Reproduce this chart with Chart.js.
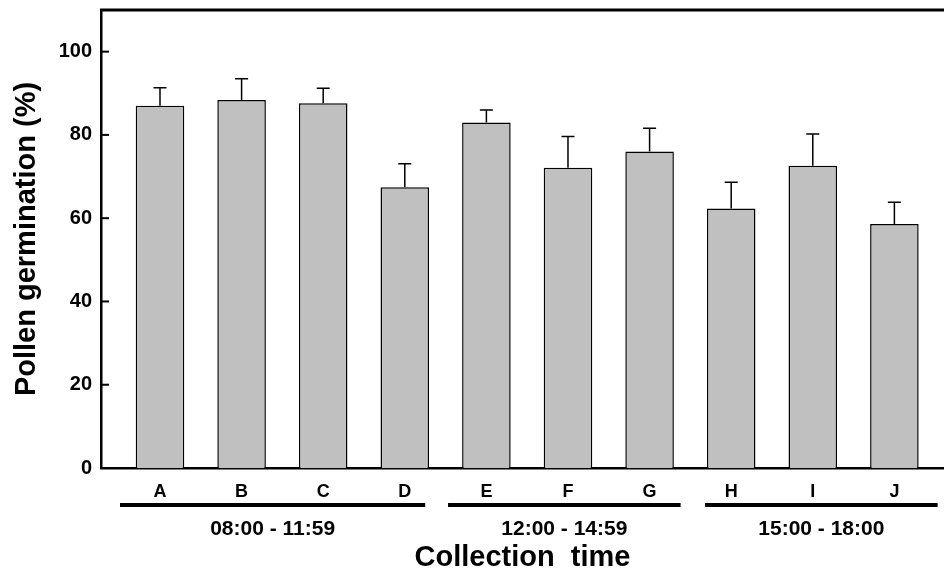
<!DOCTYPE html>
<html>
<head>
<meta charset="utf-8">
<title>Pollen germination</title>
<script src="https://cdn.jsdelivr.net/npm/chart.js"></script>
<style>
    html, body { margin: 0; padding: 0; background: #fff; }
    #wrap { width: 944px; height: 572px; position: relative; }
</style>
</head>
<body>
<div id="wrap"><canvas id="germChart"></canvas></div>
<script>
// Data germinasi polen per waktu koleksi
const categories = ['A', 'B', 'C', 'D', 'E', 'F', 'G', 'H', 'I', 'J'];
const germination = [87.0, 88.4, 87.6, 67.4, 83.0, 72.1, 76.0, 62.3, 72.6, 58.6];
const germinationErr = [4.3, 5.1, 3.6, 5.7, 3.0, 7.5, 5.6, 6.3, 7.6, 5.2];
const groupLabels = ['08:00 - 11:59', '12:00 - 14:59', '15:00 - 18:00'];
const yTicks = [0, 20, 40, 60, 80, 100];

const FONT = "'Liberation Sans', Arial, Helvetica, sans-serif";

// Bar ke-i ditaruh di posisi x = i + 1 pada sumbu linear
const points = germination.map((v, i) => ({ x: i + 1, y: v }));

// Plugin: garis atas, tick ke dalam, error bar, dan garis kelompok
const framePlugin = {
    id: 'frame',
    afterDatasetsDraw(chart, args, opts) {
        const { ctx, chartArea, scales } = chart;
        const xs = scales.x, ys = scales.y;
        ctx.save();
        ctx.strokeStyle = '#000';

        // garis atas bingkai
        ctx.lineWidth = 3;
        ctx.beginPath();
        ctx.moveTo(chartArea.left - 1, chartArea.top);
        ctx.lineTo(chartArea.right, chartArea.top);
        ctx.stroke();

        // tick sumbu y mengarah ke dalam
        ctx.lineWidth = 2;
        yTicks.forEach(t => {
            const y = ys.getPixelForValue(t);
            ctx.beginPath();
            ctx.moveTo(chartArea.left, y);
            ctx.lineTo(chartArea.left + 8, y);
            ctx.stroke();
        });

        // error bar (hanya ke atas)
        const meta = chart.getDatasetMeta(0);
        ctx.lineWidth = 1.5;
        meta.data.forEach((bar, i) => {
            const top = ys.getPixelForValue(germination[i]);
            const end = ys.getPixelForValue(germination[i] + germinationErr[i]);
            ctx.beginPath();
            ctx.moveTo(bar.x, top);
            ctx.lineTo(bar.x, end);
            ctx.moveTo(bar.x - 6.5, end);
            ctx.lineTo(bar.x + 6.5, end);
            ctx.stroke();
        });

        // garis kelompok waktu + label
        ctx.lineWidth = 4;
        ctx.fillStyle = '#000';
        ctx.font = 'bold 21px ' + FONT;
        ctx.textAlign = 'center';
        ctx.textBaseline = 'middle';
        opts.spans.forEach((span, i) => {
            const x0 = xs.getPixelForValue(span[0]);
            const x1 = xs.getPixelForValue(span[1]);
            ctx.beginPath();
            ctx.moveTo(x0, opts.lineY);
            ctx.lineTo(x1, opts.lineY);
            ctx.stroke();
            ctx.fillText(groupLabels[i], (x0 + x1) / 2, opts.labelY);
        });
        ctx.restore();
    }
};

new Chart(document.getElementById('germChart'), {
    type: 'bar',
    data: {
        datasets: [{
            label: 'Pollen germination',
            data: points,
            backgroundColor: '#c0c0c0',
            borderColor: '#000',
            borderWidth: 1.5,
            categoryPercentage: 1,
            barPercentage: 0.595
        }]
    },
    options: {
        responsive: true,
        maintainAspectRatio: false,
        animation: false,
        layout: { padding: 0 },
        plugins: {
            legend: { display: false },
            tooltip: { enabled: false },
            frame: {
                spans: [[0.51, 4.25], [4.53, 7.38], [7.68, 10.53]],
                lineY: 505,
                labelY: 529
            }
        },
        scales: {
            x: {
                type: 'linear',
                offset: false,
                min: 0.277,
                max: 10.608,
                afterFit(scale) { scale.height = 104; },
                grid: { display: false, drawTicks: false },
                border: { display: true, color: '#000', width: 2.5 },
                ticks: {
                    stepSize: 1,
                    includeBounds: false,
                    padding: 13,
                    color: '#000',
                    font: { family: FONT, size: 18, weight: 'bold' },
                    callback: v => categories[v - 1] || ''
                },
                title: {
                    display: true,
                    text: 'Collection  time',
                    color: '#000',
                    font: { family: FONT, size: 29, weight: 'bold', lineHeight: 1 },
                    padding: { top: 0, bottom: 0 }
                }
            },
            y: {
                min: 0,
                max: 110,
                afterFit(scale) {
                    scale.width = 101;
                    scale.paddingTop = 10;
                },
                grid: { display: false, drawTicks: false },
                border: { display: true, color: '#000', width: 2.5 },
                ticks: {
                    stepSize: 20,
                    includeBounds: false,
                    padding: 9,
                    color: '#000',
                    font: { family: FONT, size: 20, weight: 'bold' }
                },
                title: {
                    display: true,
                    text: 'Pollen germination (%)',
                    color: '#000',
                    font: { family: FONT, size: 29, weight: 'bold', lineHeight: 1 },
                    padding: { top: 12, bottom: 0 }
                }
            }
        }
    },
    plugins: [framePlugin]
});
</script>
</body>
</html>
